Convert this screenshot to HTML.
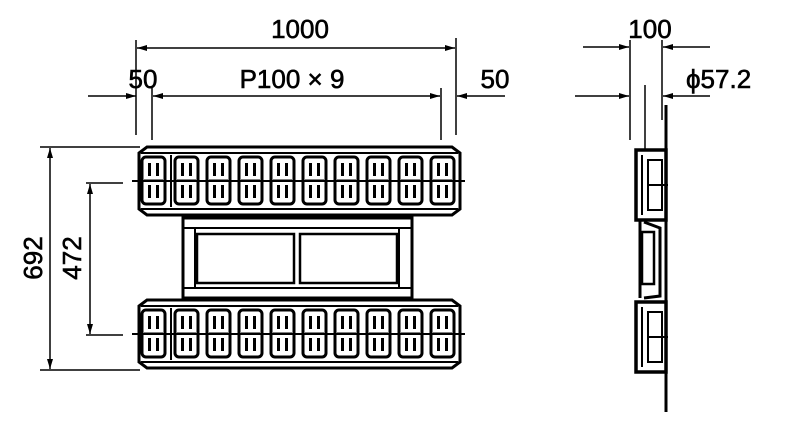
<!DOCTYPE html>
<html><head><meta charset="utf-8"><style>
html,body{margin:0;padding:0;background:#fff;width:790px;height:430px;overflow:hidden}
text{font-family:"Liberation Sans",sans-serif;fill:#000;stroke:#000;stroke-width:0.6}
</style></head><body>
<svg width="790" height="430" viewBox="0 0 790 430" xmlns="http://www.w3.org/2000/svg">
<defs>
<marker id="a" viewBox="0 0 10 6" refX="10" refY="3" markerWidth="10" markerHeight="6" orient="auto-start-reverse" markerUnits="userSpaceOnUse"><path d="M0,0L10,3L0,6z" fill="#000"/></marker>
<g id="roller">
<rect x="0" y="0" width="23" height="47" rx="4" fill="none" stroke="#000" stroke-width="3"/>
<line x1="2" y1="23.5" x2="21" y2="23.5" stroke="#000" stroke-width="2"/>
<rect x="6" y="6" width="3" height="13" fill="#000"/><rect x="14" y="6" width="3" height="13" fill="#000"/>
<rect x="6" y="28" width="3" height="13" fill="#000"/><rect x="14" y="28" width="3" height="13" fill="#000"/>
</g>
<g id="rail">
<path d="M147,0 L452,0 L460,6 L460,62 L452,68 L147,68 L139,62 L139,6 Z" fill="none" stroke="#000" stroke-width="3"/>
<line x1="141" y1="6" x2="458" y2="6" stroke="#000" stroke-width="2"/>
<line x1="141" y1="62" x2="458" y2="62" stroke="#000" stroke-width="2"/>
<line x1="132" y1="34" x2="465" y2="34" stroke="#000" stroke-width="2"/>
<use href="#roller" x="142" y="10"/><use href="#roller" x="175" y="10"/><use href="#roller" x="207" y="10"/>
<use href="#roller" x="239" y="10"/><use href="#roller" x="271" y="10"/><use href="#roller" x="303" y="10"/>
<use href="#roller" x="335" y="10"/><use href="#roller" x="367" y="10"/><use href="#roller" x="399" y="10"/>
<use href="#roller" x="431" y="10"/>
<line x1="171" y1="8" x2="171" y2="60" stroke="#000" stroke-width="2"/>
</g>
</defs>
<g stroke="#000" stroke-width="1.5" fill="none">
<line x1="136" y1="40" x2="136" y2="135"/><line x1="456" y1="38" x2="456" y2="135"/>
<line x1="152" y1="88" x2="152" y2="140"/><line x1="441" y1="88" x2="441" y2="140"/>
<line x1="137" y1="48" x2="455" y2="48" marker-start="url(#a)" marker-end="url(#a)"/>
<line x1="88" y1="96" x2="136" y2="96" marker-end="url(#a)"/>
<line x1="153" y1="96" x2="440" y2="96" marker-start="url(#a)" marker-end="url(#a)"/>
<line x1="505" y1="96" x2="457" y2="96" marker-end="url(#a)"/>
<line x1="40" y1="147" x2="140" y2="147"/><line x1="40" y1="370" x2="140" y2="370"/>
<line x1="86" y1="183" x2="123" y2="183"/><line x1="86" y1="335" x2="123" y2="335"/>
<line x1="50" y1="148" x2="50" y2="369" marker-start="url(#a)" marker-end="url(#a)"/>
<line x1="90" y1="184" x2="90" y2="334" marker-start="url(#a)" marker-end="url(#a)"/>
<line x1="630" y1="40" x2="630" y2="140"/><line x1="662" y1="40" x2="662" y2="120"/>
<line x1="645" y1="85" x2="645" y2="150"/>
<line x1="583" y1="47" x2="629" y2="47" marker-end="url(#a)"/>
<line x1="710" y1="47" x2="663" y2="47" marker-end="url(#a)"/>
<line x1="575" y1="96" x2="629" y2="96" marker-end="url(#a)"/>
<line x1="710" y1="96" x2="663" y2="96" marker-end="url(#a)"/>
</g>
<text x="300" y="38" font-size="26" text-anchor="middle">1000</text>
<text x="143" y="88" font-size="26" text-anchor="middle">50</text>
<text x="292" y="88" font-size="26" text-anchor="middle">P100 × 9</text>
<text x="495" y="88" font-size="26" text-anchor="middle">50</text>
<text x="650" y="38" font-size="26" text-anchor="middle">100</text>
<text x="686" y="88" font-size="26">ϕ57.2</text>
<text transform="translate(42,258) rotate(-90)" font-size="26" text-anchor="middle">692</text>
<text transform="translate(81,258) rotate(-90)" font-size="26" text-anchor="middle">472</text>
<use href="#rail" y="147"/>
<use href="#rail" y="300"/>
<g stroke="#000" fill="none">
<rect x="183" y="218" width="229" height="80" stroke-width="3"/>
<line x1="183" y1="228" x2="412" y2="228" stroke-width="2"/>
<line x1="183" y1="288" x2="412" y2="288" stroke-width="2"/>
<rect x="197" y="234" width="97" height="49" stroke-width="2.5"/>
<rect x="300" y="234" width="97" height="49" stroke-width="2.5"/>
<line x1="195" y1="228" x2="195" y2="288" stroke-width="2"/>
<line x1="399" y1="228" x2="399" y2="288" stroke-width="2"/>
</g>
<g stroke="#000" fill="none">
<line x1="666" y1="105" x2="666" y2="412" stroke-width="3"/>
<rect x="636" y="150" width="30" height="70" stroke-width="3.5"/>
<rect x="636" y="302" width="30" height="70" stroke-width="3.5"/>
<line x1="642" y1="155" x2="642" y2="215" stroke-width="2"/>
<line x1="642" y1="307" x2="642" y2="367" stroke-width="2"/>
<rect x="648" y="160" width="14" height="50" stroke-width="2"/>
<rect x="648" y="312" width="14" height="50" stroke-width="2"/>
<line x1="648" y1="185" x2="668" y2="185" stroke-width="2"/>
<line x1="648" y1="337" x2="668" y2="337" stroke-width="2"/>
<path d="M640,220 L640,298 M644,222 L660,228 L660,296 L644,298" stroke-width="3"/>
<rect x="642" y="232" width="12" height="52" stroke-width="2.5"/>
</g>
</svg>
</body></html>
